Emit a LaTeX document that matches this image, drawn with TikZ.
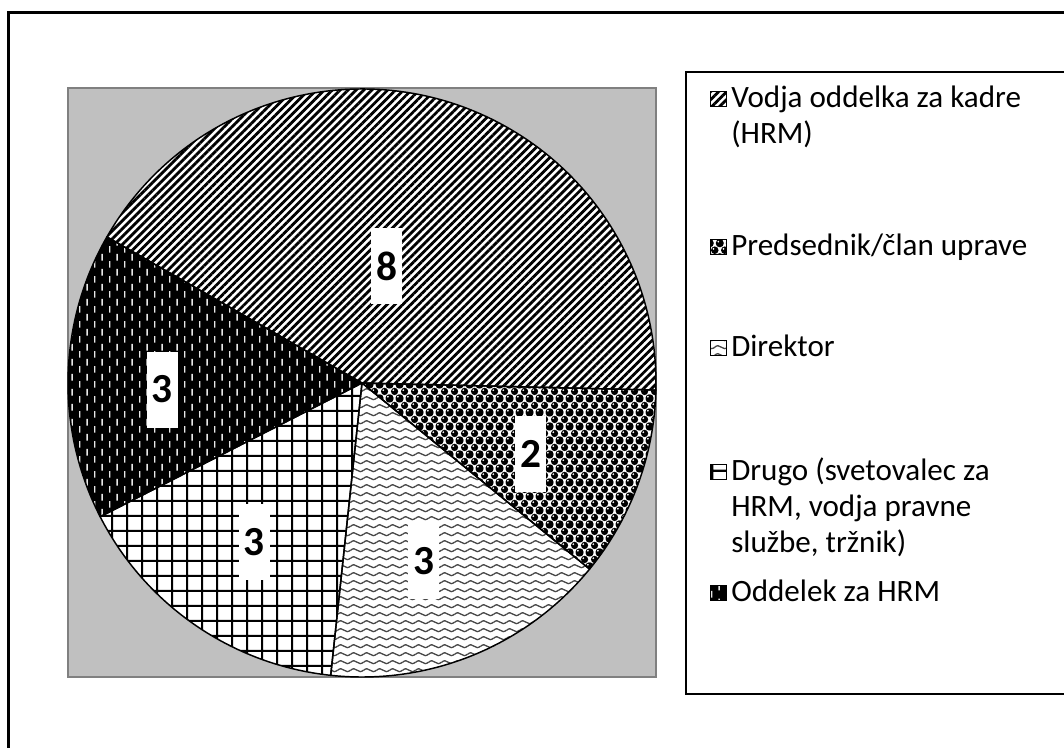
\documentclass[tikz,border=0pt]{standalone}
\usepackage{fontspec}
\setmainfont{Carlito}
\usetikzlibrary{patterns,patterns.meta}

% wave pattern (Direktor)
\pgfdeclarepatternformonly{wavesR}{\pgfpointorigin}{\pgfpoint{9.75pt}{6.2pt}}{\pgfpoint{9.75pt}{6.2pt}}{%
  \pgfsetlinewidth{1.05pt}%
  \pgfpathmoveto{\pgfpoint{-0.5pt}{2.9pt}}%
  \pgfpathcurveto{\pgfpoint{1.4pt}{4.7pt}}{\pgfpoint{3.3pt}{4.7pt}}{\pgfpoint{4.875pt}{3.1pt}}%
  \pgfpathcurveto{\pgfpoint{6.45pt}{1.5pt}}{\pgfpoint{8.35pt}{1.5pt}}{\pgfpoint{10.25pt}{3.3pt}}%
  \pgfusepath{stroke}}

% grid pattern (Drugo)
\pgfdeclarepatternformonly{gridR}{\pgfpointorigin}{\pgfpoint{11.25pt}{11.25pt}}{\pgfpoint{11.25pt}{11.25pt}}{%
  \pgfsetlinewidth{1.6pt}%
  \pgfpathmoveto{\pgfpoint{5.625pt}{-1pt}}\pgfpathlineto{\pgfpoint{5.625pt}{12.25pt}}%
  \pgfpathmoveto{\pgfpoint{-1pt}{5.625pt}}\pgfpathlineto{\pgfpoint{12.25pt}{5.625pt}}%
  \pgfusepath{stroke}}

% spheres (Predsednik): black balls ...
\pgfdeclarepatternformonly{ballsR}{\pgfpointorigin}{\pgfpoint{7.5pt}{10.5pt}}{\pgfpoint{7.5pt}{10.5pt}}{%
  \pgfpathcircle{\pgfpoint{3.75pt}{5.25pt}}{2.95pt}%
  \pgfpathcircle{\pgfpoint{0pt}{0pt}}{2.95pt}%
  \pgfpathcircle{\pgfpoint{7.5pt}{0pt}}{2.95pt}%
  \pgfpathcircle{\pgfpoint{0pt}{10.5pt}}{2.95pt}%
  \pgfpathcircle{\pgfpoint{7.5pt}{10.5pt}}{2.95pt}%
  \pgfusepath{fill}}
% ... and their highlights
\pgfdeclarepatternformonly{glintR}{\pgfpointorigin}{\pgfpoint{7.5pt}{10.5pt}}{\pgfpoint{7.5pt}{10.5pt}}{%
  \pgfpathcircle{\pgfpoint{2.75pt}{6.25pt}}{0.75pt}%
  \pgfpathcircle{\pgfpoint{6.5pt}{1.0pt}}{0.75pt}%
  \pgfusepath{fill}}

% white dashes (Oddelek, drawn on black)
\pgfdeclarepatternformonly{dashesR}{\pgfpointorigin}{\pgfpoint{11.55pt}{11.25pt}}{\pgfpoint{11.55pt}{11.25pt}}{%
  \pgfpathrectangle{\pgfpoint{2.35pt}{0.3pt}}{\pgfpoint{1.1pt}{5.25pt}}%
  \pgfpathrectangle{\pgfpoint{8.1pt}{5.925pt}}{\pgfpoint{1.1pt}{5.25pt}}%
  \pgfusepath{fill}}

\definecolor{plotgray}{HTML}{C0C0C0}
\definecolor{plotedge}{HTML}{808080}
\definecolor{wavegray}{HTML}{484848}
\definecolor{dashwhite}{HTML}{E8E8E8}

\tikzset{
  frame/.style={line width=2.2pt, black},
  slice/.style={draw=black, line width=1.1pt, line join=round},
  pdiag/.style={preaction={fill=white}, pattern={Lines[angle=45,distance=4.2pt,line width=2.1pt]}, pattern color=black},
  psph/.style={preaction={fill=white}, preaction={pattern=ballsR, pattern color=black}, pattern=glintR, pattern color=white},
  pwave/.style={preaction={fill=white}, pattern=wavesR, pattern color=wavegray},
  pgrid/.style={preaction={fill=white}, pattern=gridR, pattern color=black},
  pdash/.style={preaction={fill=black}, pattern=dashesR, pattern color=dashwhite},
  numlabel/.style={fill=white, inner sep=0pt, minimum width=23.25pt, minimum height=57pt,
    font=\fontsize{31}{33}\selectfont\bfseries},
  legtext/.style={anchor=base west, inner sep=0pt, font=\fontsize{23.3}{28}\selectfont},
  legicon/.style={draw=black, line width=0.7pt, minimum size=11.5pt, inner sep=0pt},
}

\newcommand\pieslice[2]{(C) -- ++(#1:294) arc[start angle=#1, end angle=#2, radius=294] -- cycle}

\begin{document}
\begin{tikzpicture}[x=0.75pt, y=-0.75pt]
\useasboundingbox (0,0) rectangle (1064,747);

% outer frame (left and top visible)
\draw[frame] (8.5,760) -- (8.5,12.5) -- (1075,12.5);

% plot area
\draw[fill=plotgray, draw=plotedge, line width=2.2pt] (68,88) rectangle (656,677);

% pie
\coordinate (C) at (362,383);
\path[pdiag] \pieslice{-150.2}{1.38};
\path[psph]  \pieslice{1.38}{39.27};
\path[pwave] \pieslice{39.27}{96.11};
\path[pgrid] \pieslice{96.11}{152.95};
\path[pdash] \pieslice{152.95}{209.8};
\draw[slice] \pieslice{-150.2}{1.38};
\draw[slice] \pieslice{1.38}{39.27};
\draw[slice] \pieslice{39.27}{96.11};
\draw[slice] \pieslice{96.11}{152.95};
\draw[slice] \pieslice{152.95}{209.8};

% value labels
\node[numlabel] (v1) at (386.5,266) {8};
\node[numlabel] (v2) at (530.5,454) {2};
\node[numlabel] (v3) at (423.5,561) {3};
\node[numlabel] (v4) at (254,542) {3};
\node[numlabel] (v5) at (162,389.5) {3};

% legend box (right edge outside the picture)
\draw[frame] (1075,72) -- (686,72) -- (686,694) -- (1075,694);

% legend entries
\node[legicon, pdiag] (i1) at (718.5,99) {};
\node[legtext] (t1a) at (731,107) {Vodja oddelka za kadre};
\node[legtext] (t1b) at (731,143) {(HRM)};

\node[legicon, psph] (i2) at (718.5,247) {};
\node[legtext] (t2) at (731,255) {Predsednik/član uprave};

\node[legicon, pwave] (i3) at (718.5,348) {};
\node[legtext] (t3) at (731,356) {Direktor};

\node[legicon, pgrid] (i4) at (718.5,472) {};
\node[legtext] (t4a) at (731,480) {Drugo (svetovalec za};
\node[legtext] (t4b) at (731,516) {HRM, vodja pravne};
\node[legtext] (t4c) at (731,552) {službe, tržnik)};

\node[legicon, pdash] (i5) at (718.5,593) {};
\node[legtext] (t5) at (731,601) {Oddelek za HRM};
\end{tikzpicture}
\end{document}
